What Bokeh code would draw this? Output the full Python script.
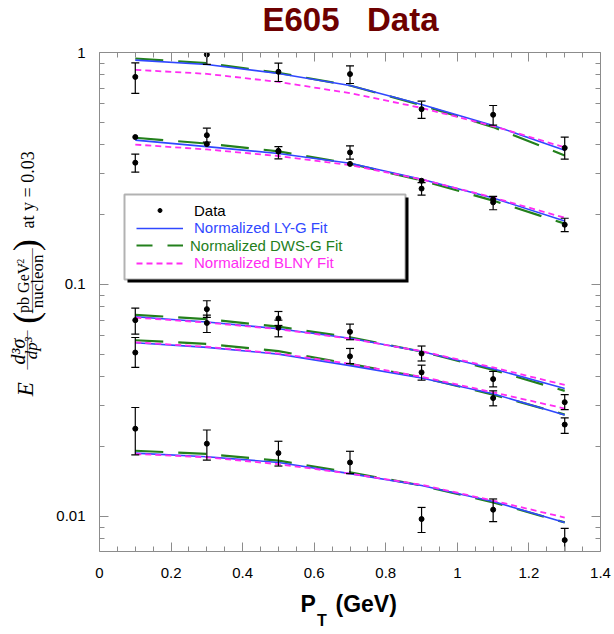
import numpy as np
from bokeh.plotting import figure
from bokeh.layouts import row, column
from bokeh.models import (Label, BoxAnnotation, Legend, LegendItem, FixedTicker,
                          CustomJSTickFormatter, LinearAxis, LogAxis, Range1d)
from bokeh.core.properties import value
from bokeh.embed import file_html
from bokeh.resources import INLINE

# ---------------- data ----------------
pt = [0.1, 0.3, 0.5, 0.7, 0.9, 1.1, 1.3]

# data points (value, lower, upper) for each set
y1 = [0.785, 0.98, 0.826, 0.807, 0.570, 0.539, 0.388]
lo1 = [0.666, 0.888, 0.75, 0.735, 0.52, 0.486, 0.347]
hi1 = [0.902, 1.08, 0.90, 0.876, 0.617, 0.591, 0.432]

y2 = [0.335, 0.44, 0.374, 0.371, 0.259, 0.226, 0.181]
lo2 = [0.305, 0.411, 0.348, 0.347, 0.243, 0.21, 0.169]
hi2 = [0.365, 0.472, 0.393, 0.396, 0.275, 0.24, 0.193]

pt2b = [0.1, 0.3, 0.5, 0.7, 0.9, 1.1]
y2b = [0.432, 0.403, 0.377, 0.331, 0.28, 0.233]

y3 = [0.0702, 0.0783, 0.0714, 0.0625, 0.0504, 0.0391, 0.0311]
lo3 = [0.0611, 0.0721, 0.0666, 0.0578, 0.0468, 0.0362, 0.0289]
hi3 = [0.0791, 0.0851, 0.0765, 0.0675, 0.0543, 0.0422, 0.0335]

y4 = [0.0509, 0.0683, 0.0651, 0.049, 0.0418, 0.0324, 0.0249]
lo4 = [0.0439, 0.0621, 0.0595, 0.0456, 0.0387, 0.030, 0.0228]
hi4 = [0.0591, 0.0738, 0.0702, 0.053, 0.0449, 0.0348, 0.0266]

y5 = [0.0239, 0.0206, 0.01876, 0.0171, 0.00975, 0.0107, 0.00791]
lo5 = [0.01845, 0.0175, 0.0165, 0.0153, 0.00853, 0.00951, 0.0069]
hi5 = [0.0295, 0.0236, 0.0211, 0.0191, 0.01094, 0.0119, 0.00888]

# fit curves (LY-G blue, DWS-G green, BLNY magenta)
ly1 = [0.927, 0.888, 0.812, 0.721, 0.597, 0.485, 0.379]
ly2 = [0.419, 0.393, 0.367, 0.333, 0.284, 0.236, 0.188]
ly3 = [0.0726, 0.0689, 0.0645, 0.0587, 0.0514, 0.0433, 0.0356]
ly4 = [0.0561, 0.0536, 0.0501, 0.0447, 0.0395, 0.0338, 0.0274]
ly5 = [0.01876, 0.0181, 0.0171, 0.0153, 0.0136, 0.0116, 0.00943]

dws1 = [0.942, 0.90, 0.817, 0.721, 0.593, 0.477, 0.36]
dws2 = [0.429, 0.405, 0.375, 0.332, 0.281, 0.23, 0.183]
dws3 = [0.0740, 0.0709, 0.0658, 0.0592, 0.0514, 0.0428, 0.0348]
dws4 = [0.0575, 0.0555, 0.0516, 0.0455, 0.0398, 0.0335, 0.0275]
dws5 = [0.0192, 0.0186, 0.0174, 0.0155, 0.0136, 0.0115, 0.00943]

blny1 = [0.842, 0.809, 0.747, 0.668, 0.577, 0.482, 0.39]
blny2 = [0.401, 0.382, 0.358, 0.327, 0.284, 0.237, 0.194]
blny3 = [0.072, 0.0685, 0.0642, 0.0584, 0.0516, 0.0439, 0.0369]
blny4 = [0.0563, 0.0539, 0.0504, 0.0455, 0.040, 0.0343, 0.0292]
blny5 = [0.0186, 0.018, 0.0168, 0.0153, 0.0137, 0.0117, 0.0099]

x_major = [0, 0.2, 0.4, 0.6, 0.8, 1.0, 1.2, 1.4]
x_tick_labels = ["0", "0.2", "0.4", "0.6", "0.8", "1", "1.2", "1.4"]
x_minor = [0.05, 0.1, 0.15, 0.25, 0.3, 0.35, 0.45, 0.5, 0.55, 0.65, 0.7, 0.75,
           0.85, 0.9, 0.95, 1.05, 1.1, 1.15, 1.25, 1.3, 1.35]
y_major = [0.01, 0.1, 1.0]
y_tick_labels = ["0.01", "0.1", "1"]
y_minor = [0.008, 0.009, 0.02, 0.03, 0.04, 0.05, 0.06, 0.07, 0.08, 0.09,
           0.2, 0.3, 0.4, 0.5, 0.6, 0.7, 0.8, 0.9]

legend_labels = ["Data", "Normalized LY-G Fit", "Normalized DWS-G Fit", "Normalized BLNY Fit"]

# ---------------- style ----------------
BLUE = "#3048ff"
GREEN = "#23801c"
MAGENTA = "#ff2cf2"
GREY = "#8c8c8c"
DARKRED = "#6e0000"
SANS = "Liberation Sans"
SERIF = "Liberation Serif"

# page layout (page pixels): title strip 0-40, main row 40-590, x-label strip 590-634
TOP_H, MAIN_H, BOT_H = 40, 550, 44
YLAB_W, MAIN_W = 50, 563
FULL_W = YLAB_W + MAIN_W

p = figure(width=MAIN_W, height=MAIN_H, x_range=(0, 1.4), y_range=(0.007065, 1.0),
           y_axis_type="log", output_backend="svg", toolbar_location=None,
           min_border_left=49, min_border_right=13, min_border_top=12,
           min_border_bottom=39)
p.title.visible = False
p.grid.visible = False
p.outline_line_color = None
p.background_fill_color = "white"

xticker = FixedTicker(ticks=x_major, minor_ticks=x_minor)
yticker = FixedTicker(ticks=y_major, minor_ticks=y_minor)
lookup_code = ("for (let i = 0; i < tv.length; i++) {"
               " if (Math.abs(tv[i] - tick) < 1e-9 * Math.max(1, Math.abs(tick))) return tl[i]; }"
               " return '';")
xfmt = CustomJSTickFormatter(args=dict(tv=x_major, tl=x_tick_labels), code=lookup_code)
yfmt = CustomJSTickFormatter(args=dict(tv=y_major, tl=y_tick_labels), code=lookup_code)
blank = CustomJSTickFormatter(code="return '';")


def style_axis(ax):
    ax.axis_line_color = GREY
    ax.major_tick_line_color = GREY
    ax.minor_tick_line_color = GREY
    ax.major_tick_in = 9
    ax.major_tick_out = 0
    ax.minor_tick_in = 5
    ax.minor_tick_out = 0
    ax.major_label_text_font = SANS
    ax.major_label_text_font_size = "15px"
    ax.major_label_text_color = "black"


xa = p.xaxis[0]
xa.ticker = xticker
xa.formatter = xfmt
style_axis(xa)
xa.major_label_standoff = 16

ya = p.yaxis[0]
ya.ticker = yticker
ya.formatter = yfmt
style_axis(ya)
ya.major_label_standoff = 14

top = LinearAxis(ticker=xticker, formatter=blank)
style_axis(top)
top.major_label_standoff = 0
top.major_label_text_font_size = "0px"
p.add_layout(top, "above")

right = LogAxis(ticker=yticker, formatter=blank)
style_axis(right)
right.major_label_standoff = 0
right.major_label_text_font_size = "0px"
p.add_layout(right, "right")

# ---------------- curves ----------------
green_r, blue_r, mag_r = [], [], []
for c in [dws1, dws2, dws3, dws4, dws5]:
    green_r.append(p.line(pt, c, line_color=GREEN, line_width=2.2, line_dash="28 15"))
for c in [ly1, ly2, ly3, ly4, ly5]:
    blue_r.append(p.line(pt, c, line_color=BLUE, line_width=1.6))
for c in [blny1, blny2, blny3, blny4, blny5]:
    mag_r.append(p.line(pt, c, line_color=MAGENTA, line_width=1.8, line_dash="6 4"))

# ---------------- data points ----------------
pts_r = []
for yy, lo, hi in [(y1, lo1, hi1), (y2, lo2, hi2), (y3, lo3, hi3),
                   (y4, lo4, hi4), (y5, lo5, hi5)]:
    p.segment(x0=pt, y0=lo, x1=pt, y1=hi, line_color="black", line_width=1.2)
    p.scatter(pt, lo, marker="dash", size=8, line_color="black", line_width=1.2)
    p.scatter(pt, hi, marker="dash", size=8, line_color="black", line_width=1.2)
    pts_r.append(p.scatter(pt, yy, marker="circle", size=5, fill_color="black",
                           line_color="black"))
p.scatter(pt2b, y2b, marker="circle", size=5, fill_color="black", line_color="black")

# legend-only glyph for the dashed green style (NaN data draws nothing in the plot)
r_dws_leg = p.line([np.nan], [np.nan], line_color=GREEN, line_width=2.2, line_dash="16 15")

# ---------------- legend (frame-relative screen placement) ----------------
FL, FB = 99, 551  # frame left / bottom in page pixels


def fx(px):
    return px - FL


def fy(py):
    return FB - py


box_l, box_t, box_r, box_b = 124, 194, 405, 279
p.add_layout(BoxAnnotation(left=fx(box_l + 3), right=fx(box_r + 3), top=fy(box_t + 3),
                           bottom=fy(box_b + 3), left_units="screen", right_units="screen",
                           top_units="screen", bottom_units="screen",
                           fill_color="black", fill_alpha=1.0, line_color=None))
p.add_layout(BoxAnnotation(left=fx(box_l), right=fx(box_r), top=fy(box_t), bottom=fy(box_b),
                           left_units="screen", right_units="screen",
                           top_units="screen", bottom_units="screen",
                           fill_color="white", fill_alpha=1.0, line_color="black",
                           line_width=2))

rows = [(legend_labels[0], pts_r[0], "black", 210.5, 11, 10),
        (legend_labels[1], blue_r[0], BLUE, 228.0, 11, 16),
        (legend_labels[2], r_dws_leg, GREEN, 245.7, 7, 16),
        (legend_labels[3], mag_r[0], MAGENTA, 263.3, 11, 16)]
for text, rend, col, cy, so, gh in rows:
    lg = Legend(items=[LegendItem(label=value(text), renderers=[rend])],
                location=(fx(136), fy(cy) - 8), padding=0, margin=0, spacing=0,
                glyph_width=47, glyph_height=gh, label_height=16, label_standoff=so,
                label_text_font=SANS, label_text_font_size="15px",
                label_text_color=col, background_fill_alpha=0, border_line_alpha=0)
    p.add_layout(lg)


# ---------------- text strips (frames cover the whole canvas; coords = page px) ----------------
def text_fig(w, h, x0, x1, ytop, ybot):
    f = figure(width=w, height=h, x_range=Range1d(x0, x1), y_range=Range1d(ybot, ytop),
               output_backend="svg", toolbar_location=None, x_axis_location=None,
               y_axis_location=None, min_border=0)
    f.title.visible = False
    f.grid.visible = False
    f.outline_line_color = None
    f.background_fill_color = "white"
    return f


SHIFT = 0.33  # measured downward drift of rendered text, in em


def htext(f, text, px, base_y, size, style="normal", color="black", align="left"):
    # horizontal text whose baseline should land at base_y (page px)
    f.add_layout(Label(x=px, y=base_y - SHIFT * size, text=text, text_font=SANS,
                       text_font_size=f"{size}px", text_font_style=style,
                       text_color=color, text_align=align, text_baseline="alphabetic"))


def vtext(f, text, base_x, start_y, size, style="normal"):
    # text rotated to read upward, starting at start_y, baseline at base_x (page px)
    f.add_layout(Label(x=base_x - SHIFT * size, y=start_y, text=text, text_font=SERIF,
                       text_font_size=f"{size}px", text_font_style=style,
                       text_color="black", text_align="left",
                       text_baseline="alphabetic", angle=np.pi / 2, angle_units="rad"))


t = text_fig(FULL_W, TOP_H, 0, FULL_W, 0, TOP_H)
htext(t, "E605\u00a0\u00a0\u00a0Data", 350, 29.5, 33, style="bold", color=DARKRED,
      align="center")

q = text_fig(YLAB_W, MAIN_H, 0, YLAB_W, TOP_H, TOP_H + MAIN_H)
vtext(q, "E", 33, 419, 23, style="italic")
vtext(q, "d\u00b3\u03c3", 24, 384, 20, style="italic")
vtext(q, "\u2014\u2014\u2014", 29, 389.5, 13)
vtext(q, "dp\u00b3", 36.5, 378, 17, style="italic")
vtext(q, "(", 37.3, 339, 36)
vtext(q, ")", 37.3, 259, 36)
vtext(q, "pb GeV", 28.5, 327, 16)
vtext(q, "-2", 23, 276.5, 10)
vtext(q, "\u2014\u2014\u2014\u2014\u2014", 34.5, 327.5, 13)
vtext(q, "nucleon", 43, 322, 17)
vtext(q, "at y = 0.03", 33.1, 234, 18)

b = text_fig(FULL_W, BOT_H, 0, FULL_W, TOP_H + MAIN_H, TOP_H + MAIN_H + BOT_H)
htext(b, "P", 300, 611.5, 23, style="bold")
htext(b, "T", 316.5, 625, 16, style="bold")
htext(b, "(GeV)", 335, 611.5, 23, style="bold")

layout = column(t, row(q, p), b)
open("out.html", "w").write(file_html(layout, INLINE))
